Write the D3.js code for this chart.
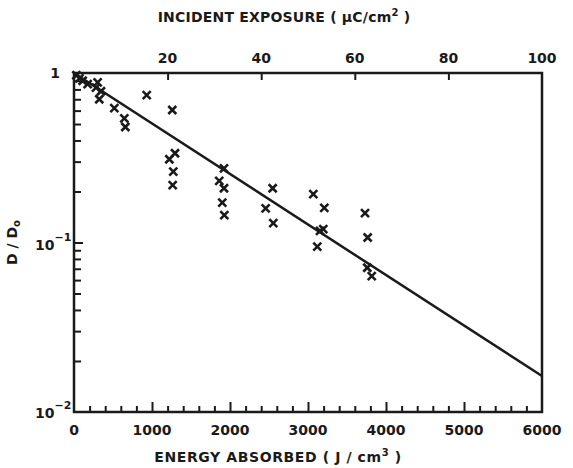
<!DOCTYPE html>
<html>
<head>
<meta charset="utf-8">
<script src="https://cdn.jsdelivr.net/npm/d3@7"></script>
<style>
  body { margin: 0; background: #fff; }
  text { font-family: "DejaVu Sans", sans-serif; fill: #1a1a1a; font-weight: bold; }
</style>
</head>
<body>
<script>
const width = 573;
const height = 468;
const margin = {top: 73, right: 31, bottom: 56, left: 74};

// measured points: energy absorbed (J/cm3) and D/D0
const energy = [30, 70, 111, 175, 303, 282, 346, 324, 517, 645, 658,
    932, 1260, 1295, 1222, 1273, 1265,
    1923, 1862, 1923, 1901, 1927,
    2547, 2457, 2555,
    3068, 3209, 3154, 3196, 3119,
    3731, 3765, 3760, 3817];
const ratio = [0.97, 0.93, 0.90, 0.86, 0.88, 0.82, 0.78, 0.70, 0.62, 0.54, 0.48,
    0.74, 0.605, 0.336, 0.31, 0.262, 0.218,
    0.274, 0.231, 0.209, 0.172, 0.145,
    0.209, 0.159, 0.130,
    0.193, 0.160, 0.117, 0.120, 0.0945,
    0.149, 0.107, 0.071, 0.0634];

// fitted line
const fitEnergy = [0, 6000];
const fitRatio = [1, 0.0163];

const bottomTicks = [0, 1000, 2000, 3000, 4000, 5000, 6000];
const topTicks = [20, 40, 60, 80, 100];

const svg = d3.select("body").append("svg")
    .attr("width", width)
    .attr("height", height);

const x = d3.scaleLinear()
    .domain([0, 6000])
    .range([margin.left, width - margin.right]);

const xTop = d3.scaleLinear()
    .domain([0, 100])
    .range([margin.left, width - margin.right]);

const y = d3.scaleLog()
    .domain([0.01, 1])
    .range([height - margin.bottom, margin.top]);

const ink = "#1a1a1a";

// bottom axis: minor every 200, major every 1000, ticks pointing inward
const minorX = d3.range(200, 6000, 200).filter(d => d % 1000 !== 0);
svg.append("g")
    .attr("transform", `translate(0,${height - margin.bottom})`)
    .call(d3.axisTop(x).tickValues(minorX).tickSize(6).tickFormat(""))
    .call(g => g.select(".domain").remove())
    .call(g => g.selectAll("line").attr("stroke", ink).attr("stroke-width", 2));

svg.append("g")
    .attr("transform", `translate(0,${height - margin.bottom})`)
    .call(d3.axisTop(x).tickValues(bottomTicks.slice(1, -1)).tickSize(10).tickFormat(""))
    .call(g => g.select(".domain").remove())
    .call(g => g.selectAll("line").attr("stroke", ink).attr("stroke-width", 2));

svg.append("g")
    .selectAll("text")
    .data(bottomTicks)
    .join("text")
    .attr("x", d => x(d))
    .attr("y", height - margin.bottom + 23)
    .attr("text-anchor", "middle")
    .attr("font-size", 14)
    .text(d => d);

// top axis
svg.append("g")
    .attr("transform", `translate(0,${margin.top})`)
    .call(d3.axisBottom(xTop).tickValues(topTicks.slice(0, -1)).tickSize(7).tickFormat(""))
    .call(g => g.select(".domain").remove())
    .call(g => g.selectAll("line").attr("stroke", ink).attr("stroke-width", 2));

svg.append("g")
    .selectAll("text")
    .data(topTicks)
    .join("text")
    .attr("x", d => xTop(d))
    .attr("y", margin.top - 10)
    .attr("text-anchor", "middle")
    .attr("font-size", 14)
    .text(d => d);

// left axis: log ticks pointing inward
const logTicks = [];
[0.01, 0.1].forEach(dec => {
    for (let k = 2; k <= 9; k++) logTicks.push(dec * k);
});
svg.append("g")
    .attr("transform", `translate(${margin.left},0)`)
    .call(d3.axisRight(y).tickValues(logTicks).tickSize(7).tickFormat(""))
    .call(g => g.select(".domain").remove())
    .call(g => g.selectAll("line").attr("stroke", ink).attr("stroke-width", 2));

svg.append("g")
    .attr("transform", `translate(${margin.left},0)`)
    .call(d3.axisRight(y).tickValues([0.1]).tickSize(9).tickFormat(""))
    .call(g => g.select(".domain").remove())
    .call(g => g.selectAll("line").attr("stroke", ink).attr("stroke-width", 2));

// y tick labels
svg.append("text")
    .attr("x", 60).attr("y", y(1) + 5)
    .attr("text-anchor", "end").attr("font-size", 14)
    .text("1");

[[0.1, "−1"], [0.01, "−2"]].forEach(([v, p]) => {
    const t = svg.append("text")
        .attr("x", 35).attr("y", y(v) + (v === 0.01 ? 6 : 7))
        .attr("font-size", 14);
    t.append("tspan").text("10");
    t.append("tspan").attr("dy", -9).attr("font-size", 11).text(p);
});

// frame
svg.append("rect")
    .attr("x", margin.left)
    .attr("y", margin.top)
    .attr("width", width - margin.left - margin.right)
    .attr("height", height - margin.top - margin.bottom)
    .attr("fill", "none")
    .attr("stroke", ink)
    .attr("stroke-width", 2.5);

// fit line
const fit = fitEnergy.map((e, i) => [e, fitRatio[i]]);
svg.append("path")
    .datum(fit)
    .attr("fill", "none")
    .attr("stroke", ink)
    .attr("stroke-width", 2.5)
    .attr("d", d3.line().x(d => x(d[0])).y(d => y(d[1])));

// x markers
const pts = energy.map((e, i) => [e, ratio[i]]);
const s = 4;
svg.append("g")
    .selectAll("path")
    .data(pts)
    .join("path")
    .attr("transform", d => `translate(${x(d[0])},${y(d[1])})`)
    .attr("d", `M${-s},${-s}L${s},${s}M${s},${-s}L${-s},${s}`)
    .attr("stroke", ink)
    .attr("stroke-width", 2.6)
    .attr("fill", "none");

// axis titles
svg.append("text")
    .attr("x", 284).attr("y", 22)
    .attr("text-anchor", "middle")
    .attr("font-size", 14)
    .attr("letter-spacing", 0.2)
    .html("INCIDENT EXPOSURE ( μC/cm<tspan dy='-6' font-size='10'>2</tspan><tspan dy='6'> )</tspan>");

svg.append("text")
    .attr("x", 278).attr("y", 462)
    .attr("text-anchor", "middle")
    .attr("font-size", 14)
    .attr("letter-spacing", 0.6)
    .html("ENERGY ABSORBED ( J / cm<tspan dy='-6' font-size='10'>3</tspan><tspan dy='6'> )</tspan>");

svg.append("text")
    .attr("transform", `translate(17,${y(0.1)}) rotate(-90)`)
    .attr("text-anchor", "middle")
    .attr("font-size", 14)
    .html("D / D<tspan dy='3' font-size='10'>o</tspan>");
</script>
</body>
</html>
